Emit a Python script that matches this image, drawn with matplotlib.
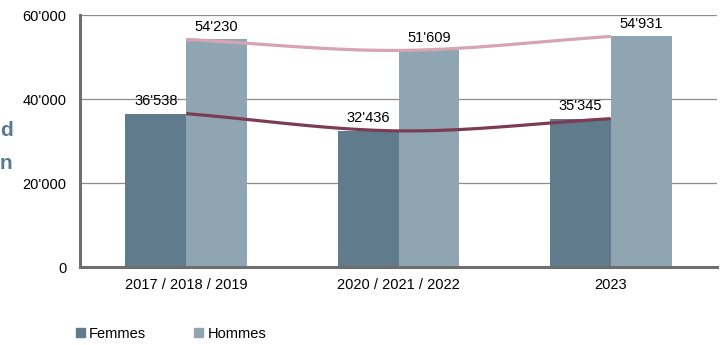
import numpy as np
import matplotlib
matplotlib.use('Agg')
import matplotlib.pyplot as plt
from matplotlib.patches import Patch

plt.rcParams['font.family'] = ['Liberation Sans', 'DejaVu Sans']

categories = ["2017 / 2018 / 2019", "2020 / 2021 / 2022", "2023"]
femmes = [36538, 32436, 35345]
hommes = [54230, 51609, 54931]
yticks = [0, 20000, 40000, 60000]

c_femmes = '#5f7b8c'
c_hommes = '#8fa6b2'
c_line_f = '#7d3c55'
c_line_h = '#d6a4b3'
fs = 10.5


def fmt(v):
    return f"{v:,}".replace(",", "'")


def lissage(xs, ys, n=40):
    """Courbe lissée (Catmull-Rom) passant par les points."""
    xs = np.asarray(xs, float); ys = np.asarray(ys, float)
    px = np.concatenate([[2 * xs[0] - xs[1]], xs, [2 * xs[-1] - xs[-2]]])
    py = np.concatenate([[2 * ys[0] - ys[1]], ys, [2 * ys[-1] - ys[-2]]])
    ox, oy = [], []
    for i in range(1, len(px) - 2):
        t = np.linspace(0, 1, n)
        for p, out in ((px, ox), (py, oy)):
            p0, p1, p2, p3 = p[i - 1], p[i], p[i + 1], p[i + 2]
            out.extend(0.5 * ((2 * p1) + (-p0 + p2) * t
                              + (2 * p0 - 5 * p1 + 4 * p2 - p3) * t ** 2
                              + (-p0 + 3 * p1 - 3 * p2 + p3) * t ** 3))
    return np.array(ox), np.array(oy)


fig = plt.figure(figsize=(7.22, 3.45), dpi=100)
ax = fig.add_axes([0.111, 0.226, 0.882, 0.73])

x = np.arange(len(categories))
w = 0.287
ax.bar(x - w / 2, femmes, w, color=c_femmes, zorder=2)
ax.bar(x + w / 2, hommes, w, color=c_hommes, zorder=2)

lx, ly = lissage(x, femmes)
ax.plot(lx, ly, color=c_line_f, lw=2.3, zorder=3, solid_capstyle='butt')
lx, ly = lissage(x, hommes)
ax.plot(lx, ly, color=c_line_h, lw=2.3, zorder=3, solid_capstyle='butt')

for i in range(len(categories)):
    ax.annotate(fmt(femmes[i]), (x[i] - w / 2, femmes[i]), xytext=(0, 4),
                textcoords='offset points', ha='center', va='bottom', fontsize=fs)
    ax.annotate(fmt(hommes[i]), (x[i] + w / 2, hommes[i]), xytext=(0, 4),
                textcoords='offset points', ha='center', va='bottom', fontsize=fs)

ax.set_xlim(-0.5, 2.5)
ax.set_ylim(0, 60000)
ax.set_yticks(yticks)
ax.set_yticklabels([fmt(v) for v in yticks], fontsize=fs)
ax.set_xticks(x)
ax.set_xticklabels(categories, fontsize=fs)
ax.tick_params(length=0, pad=8)
ax.tick_params(axis='y', pad=10)
ax.grid(axis='y', color='#8c8c8c', lw=0.9, zorder=1)
for s in ('top', 'right'):
    ax.spines[s].set_visible(False)
for s in ('left', 'bottom'):
    ax.spines[s].set_color('#6e6e6e')
    ax.spines[s].set_linewidth(2.2)

# titre d'axe coupé
fig.text(0.0, 0.605, "d", fontsize=15, fontweight='bold', color='#5b7a92')
fig.text(0.0, 0.51, "n", fontsize=15, fontweight='bold', color='#5b7a92')

fig.legend(handles=[Patch(color=c_femmes, label='Femmes'),
                    Patch(color=c_hommes, label='Hommes')],
           loc='lower left', bbox_to_anchor=(0.087, -0.025), ncol=2, frameon=False,
           fontsize=fs, handlelength=0.6, handleheight=0.6, handletextpad=0.3,
           columnspacing=3.3)

fig.savefig('out.png', dpi=100)
